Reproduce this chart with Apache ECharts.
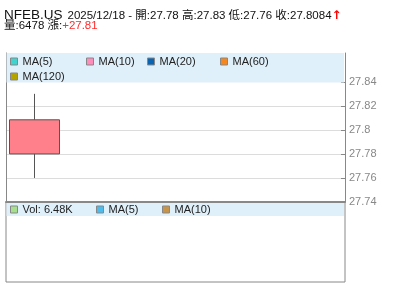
<!DOCTYPE html>
<html>
<head>
<meta charset="utf-8">
<script src="https://cdn.jsdelivr.net/npm/echarts@6/dist/echarts.min.js"></script>
<style>
html,body{margin:0;padding:0;background:#fff;}
#c{width:400px;height:301px;}
</style>
</head>
<body>
<div id="c"></div>
<script>
// ---- data ----
const ticker = 'NFEB.US';
const dates = ['2025/12/18', '', '', '', '', ''];
const opens = [27.78];
const highs = [27.83];
const lows = [27.76];
const closes = [27.8084];
const volumes = [6478];
const changeText = '+27.81';
const priceTicks = [27.74, 27.76, 27.78, 27.8, 27.82, 27.84];
const maNames = ['MA(5)', 'MA(10)', 'MA(20)', 'MA(60)', 'MA(120)'];
const volLegendNames = ['Vol', 'VMA(5)', 'VMA(10)'];

// ---- styles ----
const FONT = '"Liberation Sans", Arial, "Noto Sans CJK TC", sans-serif';
const maColors = ['#40d4d0', '#ff8cba', '#0a64b4', '#f7861c', '#b4a400'];
const volColors = ['#a6e08e', '#4cbcee', '#c89448'];
const maPos = [[10, 56], [86, 56], [147, 56], [220, 56], [10, 71]];
const volPos = [[10, 204], [96, 204], [162, 204]];

const candleData = opens.map((o, i) => [o, closes[i], lows[i], highs[i]]);
const fmtVol = v => (v / 1000).toFixed(2) + 'K';
const volLabels = {'Vol': 'Vol: ' + fmtVol(volumes[volumes.length - 1]), 'VMA(5)': 'MA(5)', 'VMA(10)': 'MA(10)'};

const last = candleData.length - 1;
const line1 = '{a|' + ticker + '} {b|' + dates[last] + ' - 開:' + opens[last] + ' 高:' + highs[last] +
  ' 低:' + lows[last] + ' 收:' + closes[last] + '}{r|↑}';
const line2 = '{b|量:' + volumes[last] + ' 漲:}{r2|' + changeText + '}';

const legends = [];
maNames.forEach((n, i) => legends.push({
  data: [{name: n, itemStyle: {color: maColors[i], borderColor: '#888', borderWidth: 1}}],
  left: maPos[i][0], top: maPos[i][1], padding: 0, icon: 'rect', itemWidth: 7, itemHeight: 7,
  selectedMode: false, z: 20, textStyle: {fontSize: 11, color: '#222', fontFamily: FONT}
}));
volLegendNames.forEach((n, i) => legends.push({
  data: [{name: n, itemStyle: {color: volColors[i], borderColor: '#888', borderWidth: 1}}],
  left: volPos[i][0], top: volPos[i][1], padding: 0, icon: 'rect', itemWidth: 7, itemHeight: 7,
  selectedMode: false, z: 20, formatter: nm => volLabels[nm],
  textStyle: {fontSize: 11, color: '#222', fontFamily: FONT}
}));

const series = [{
  type: 'candlestick', name: 'K', xAxisIndex: 0, yAxisIndex: 0,
  data: candleData, barWidth: 50,
  itemStyle: {color: '#ff808a', color0: '#7ccf7c', borderColor: '#555', borderColor0: '#555', borderWidth: 1}
}];
maNames.forEach((n, i) => series.push({type: 'line', name: n, data: [], xAxisIndex: 0, yAxisIndex: 0, color: maColors[i]}));
volLegendNames.forEach((n, i) => series.push({type: 'line', name: n, data: [], xAxisIndex: 1, yAxisIndex: 2, color: volColors[i]}));

const chart = echarts.init(document.getElementById('c'), null, {renderer: 'canvas'});
chart.setOption({
  animation: false,
  textStyle: {fontFamily: FONT},
  title: [
    {text: line1, left: 4, top: 4, padding: 0, textStyle: {fontWeight: 'normal', rich: {
      a: {fontSize: 13.5, color: '#111', fontWeight: 'normal', fontFamily: FONT, verticalAlign: 'bottom', lineHeight: 14},
      b: {fontSize: 11.5, color: '#111', fontWeight: 'normal', fontFamily: FONT, verticalAlign: 'bottom', lineHeight: 14},
      r: {fontSize: 12, color: '#ff0000', fontWeight: 'bold', fontFamily: 'DejaVu Sans', verticalAlign: 'bottom', lineHeight: 14}
    }}},
    {text: line2, left: 4, top: 18, padding: 0, textStyle: {fontWeight: 'normal', rich: {
      b: {fontSize: 11.5, color: '#111', fontWeight: 'normal', fontFamily: FONT, verticalAlign: 'bottom', lineHeight: 14},
      r2: {fontSize: 11.5, color: '#ff2a2a', fontWeight: 'normal', fontFamily: FONT, verticalAlign: 'bottom', lineHeight: 14}
    }}}
  ],
  legend: legends,
  graphic: [
    {type: 'rect', shape: {x: 6.5, y: 53, width: 337.5, height: 29.5}, style: {fill: '#dff0fa', stroke: null, lineWidth: 0}, z: 10, silent: true},
    {type: 'rect', shape: {x: 6.5, y: 203, width: 337.5, height: 13}, style: {fill: '#dff0fa', stroke: null, lineWidth: 0}, z: 10, silent: true}
  ],
  grid: [
    {left: 6, right: 55, top: 53, height: 149},
    {left: 6, right: 55, top: 202, bottom: 19, show: true, borderColor: '#888', borderWidth: 1, backgroundColor: 'transparent'}
  ],
  xAxis: [
    {type: 'category', gridIndex: 0, data: dates, boundaryGap: true,
      axisLine: {show: true, onZero: false, lineStyle: {color: '#888', width: 2}}, axisTick: {show: false}, axisLabel: {show: false}, splitLine: {show: false}},
    {type: 'category', gridIndex: 1, data: dates, show: false}
  ],
  yAxis: [
    {type: 'value', gridIndex: 0, position: 'right', min: priceTicks[0], max: 27.864, interval: 0.02, scale: true,
      axisLine: {show: true, lineStyle: {color: '#888', width: 1}},
      axisTick: {show: true, inside: true, length: 4, lineStyle: {color: '#888'}, customValues: priceTicks},
      axisLabel: {color: '#888', fontSize: 11, margin: 4, fontFamily: FONT, customValues: priceTicks},
      splitLine: {show: true, showMaxLine: false, lineStyle: {color: '#dcdcdc', width: 1}}},
    {type: 'value', gridIndex: 0, position: 'left', min: priceTicks[0], max: 27.864,
      axisLine: {show: true, lineStyle: {color: '#888', width: 1}}, axisTick: {show: false}, axisLabel: {show: false}, splitLine: {show: false}},
    {type: 'value', gridIndex: 1, show: false, min: 0, max: 10000, splitLine: {show: false}}
  ],
  series: series
});
</script>
</body>
</html>
